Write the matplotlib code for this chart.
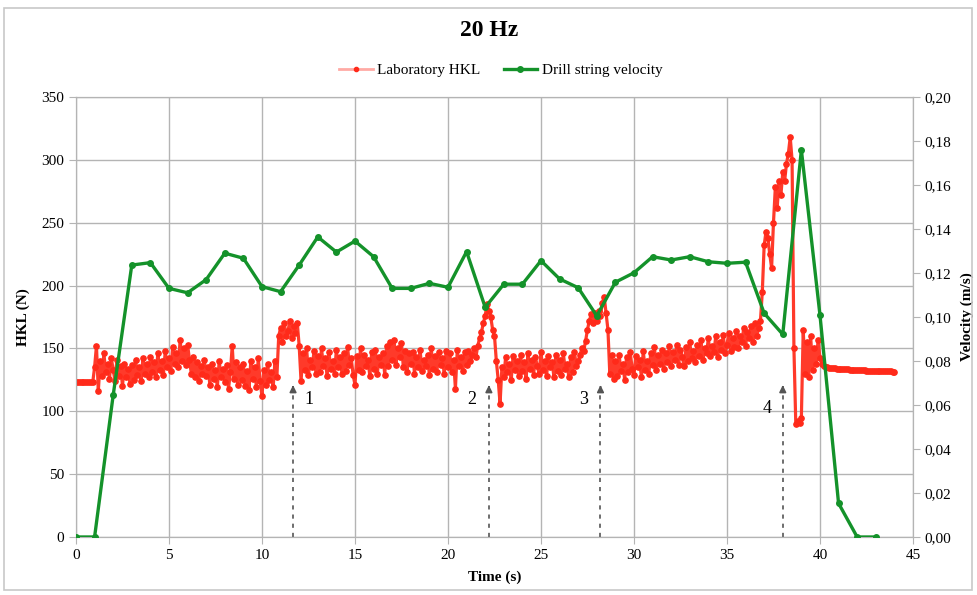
import numpy as np
import matplotlib
matplotlib.use("Agg")
import matplotlib.pyplot as plt
from matplotlib.patches import Rectangle
from matplotlib.lines import Line2D
from matplotlib.ticker import FuncFormatter

plt.rcParams['font.family'] = ['Liberation Serif', 'DejaVu Serif']

# Drill string velocity (m/s), one sample per second
vel_t = list(range(0, 44))
vel_v = [0.0, 0.0, 0.0645, 0.1236, 0.1247, 0.113, 0.111, 0.117, 0.129, 0.1267,
         0.1138, 0.1115, 0.1236, 0.1364, 0.1295, 0.1345, 0.1274, 0.113, 0.113, 0.1153,
         0.1135, 0.1297, 0.1044, 0.1149, 0.1149, 0.1256, 0.1173, 0.1133, 0.1005, 0.1158,
         0.1201, 0.1274, 0.1259, 0.1274, 0.1251, 0.1244, 0.1249, 0.1017, 0.0921, 0.1759,
         0.1009, 0.0153, 0.0, 0.0]

# Laboratory HKL (N), sampled every 0.1 s from 0 to 44 s (one row per second)
hkl_dt = 0.1
hkl_v = [
    123, 123, 123, 123, 123, 123, 123, 123, 123, 123,
    135, 152, 116, 140, 128, 146, 131, 138, 126, 142,
    133, 124, 141, 128, 136, 120, 138, 127, 134, 122,
    137, 125, 141, 129, 135, 124, 142, 130, 138, 127,
    143, 131, 139, 127, 146, 133, 140, 129, 148, 135,
    142, 132, 151, 138, 146, 135, 157, 140, 150, 137,
    153, 141, 130, 143, 127, 139, 124, 136, 130, 141,
    128, 135, 121, 138, 126, 133, 119, 140, 127, 134,
    123, 137, 118, 131, 152, 126, 139, 121, 135, 125,
    138, 120, 132, 117, 140, 126, 135, 119, 142, 124,
    112, 133, 121, 138, 125, 131, 119, 140, 127, 160,
    166, 155, 170, 160, 164, 172, 158, 168, 162, 170,
    152, 124, 146, 133, 150, 129, 141, 135, 148, 130,
    144, 131, 150, 136, 142, 128, 147, 134, 140, 130,
    149, 135, 143, 130, 146, 132, 151, 137, 142, 129,
    121, 144, 133, 150, 131, 145, 136, 141, 128, 147,
    134, 149, 130, 143, 137, 146, 129, 152, 136, 155,
    141, 157, 137, 150, 143, 154, 135, 148, 131, 146,
    138, 147, 130, 143, 135, 149, 132, 141, 136, 145,
    129, 150, 134, 144, 131, 147, 137, 142, 130, 148,
    135, 146, 131, 141, 118, 149, 136, 143, 132, 147,
    137, 148, 140, 145, 150, 143, 152, 158, 163, 170,
    176, 185, 180, 175, 165, 160, 140, 125, 106, 135,
    127, 143, 131, 138, 125, 144, 133, 140, 128, 145,
    132, 139, 126, 146, 134, 141, 129, 143, 136, 130,
    147, 133, 140, 128, 144, 135, 139, 127, 145, 132,
    141, 129, 146, 134, 138, 127, 143, 131, 147, 136,
    140, 145, 150, 148, 156, 165, 172, 177, 170, 178,
    172, 180, 176, 186, 191, 178, 165, 130, 145, 126,
    140, 128, 145, 132, 138, 125, 143, 131, 147, 134,
    129, 144, 135, 141, 127, 148, 133, 140, 130, 146,
    137, 151, 133, 145, 138, 149, 134, 146, 139, 152,
    136, 147, 141, 153, 137, 149, 143, 136, 151, 140,
    155, 142, 148, 139, 153, 144, 157, 141, 150, 146,
    158, 144, 152, 147, 160, 143, 155, 149, 161, 146,
    153, 162, 148, 158, 151, 164, 150, 160, 155, 166,
    152, 163, 158, 168, 155, 170, 160, 166, 172, 195,
    232, 243, 238, 225, 214, 250, 278, 262, 283, 272,
    290, 283, 297, 305, 318, 300, 150, 90, 92, 91,
    95, 165, 130, 155, 127, 160, 133, 150, 138, 157,
    142, 138, 136, 135.5, 135, 134.8, 134.5, 134.3, 134.1, 133.9,
    133.8, 133.7, 133.6, 133.5, 133.4, 133.3, 133.2, 133.1, 133.0, 132.9,
    132.8, 132.7, 132.6, 132.5, 132.5, 132.4, 132.3, 132.3, 132.2, 132.1,
    132.1, 132.0, 132.0, 131.9, 131.9, 131.8, 131.8, 131.7, 131.7, 131.6,
    131.6,
]
hkl_t = np.arange(len(hkl_v)) * hkl_dt

# Event markers
event_t = [11.67, 22.2, 28.2, 38.0]
event_labels = ['1', '2', '3', '4']
event_label_pos = [(12.5, 109), (21.3, 109), (27.3, 109), (37.15, 102)]
event_tip = 123

fig = plt.figure(figsize=(9.78, 5.95), dpi=100)
fig.patches.append(Rectangle((0.004, 0.008), 0.99, 0.978, transform=fig.transFigure,
                             fill=False, edgecolor='#c8c8c8', linewidth=1.2))
ax = fig.add_axes([0.0777, 0.0975, 0.8558, 0.7395])
ax2 = ax.twinx()

grid_c = '#b4b4b4'
ax.set_xlim(0, 45)
ax.set_ylim(0, 350)
ax.set_xticks(range(0, 46, 5))
ax.set_yticks(range(0, 351, 50))
ax.grid(True, color=grid_c, linewidth=1)
ax.set_axisbelow(True)
for s in ax.spines.values():
    s.set_color(grid_c)
for s in ax2.spines.values():
    s.set_color(grid_c)

red = '#ff2a1a'
ax.plot(hkl_t, hkl_v, color='#ff3a2a', linewidth=2.3, marker='o', markersize=3.8,
        markerfacecolor=red, markeredgecolor=red, zorder=3)

ax2.set_ylim(0, 0.20)
ax2.set_yticks(np.arange(0, 0.2001, 0.02))
ax2.yaxis.set_major_formatter(FuncFormatter(lambda v, p: f"{v:.2f}".replace('.', ',')))
green = '#14922a'
ax2.plot(vel_t, vel_v, color=green, linewidth=2.4, marker='o', markersize=4, zorder=4)

for t in event_t:
    ax.plot([t, t], [0, event_tip - 6], linestyle=(0, (2.5, 3)), color='#555555',
            linewidth=1.2, zorder=2)
    ax.annotate('', xy=(t, event_tip), xytext=(t, event_tip - 7),
                arrowprops=dict(arrowstyle='-|>', color='#555555', lw=1.2,
                                mutation_scale=10), zorder=2)
for lab, (x, y) in zip(event_labels, event_label_pos):
    ax.text(x, y, lab, fontsize=13, ha='center', va='center', zorder=5)

tick_kw = dict(labelsize=11, colors='black', length=5, color=grid_c)
ax.tick_params(axis='both', **tick_kw)
ax2.tick_params(axis='y', **tick_kw)

ax.set_xlabel('Time (s)', fontsize=11, fontweight='bold', labelpad=6)
ax.set_ylabel('HKL (N)', fontsize=11, fontweight='bold')
ax.yaxis.set_label_coords(-0.055, 0.5)
ax2.set_ylabel('Velocity (m/s)', fontsize=11, fontweight='bold')
ax2.yaxis.set_label_coords(1.057, 0.5)

fig.text(0.5, 0.948, '20 Hz', ha='center', va='center', fontsize=17, fontweight='bold')

handles = [Line2D([], [], color='#ffaaa5', linewidth=2, marker='o', markersize=3,
                  markerfacecolor=red, markeredgecolor=red),
           Line2D([], [], color=green, linewidth=2.4, marker='o', markersize=4)]
fig.legend(handles, ['Laboratory HKL', 'Drill string velocity'], loc='center',
           bbox_to_anchor=(0.512, 0.882), ncol=2, frameon=False, fontsize=11,
           handlelength=2.2, columnspacing=1.5, handletextpad=0.3)

fig.savefig('out.png', dpi=100)
